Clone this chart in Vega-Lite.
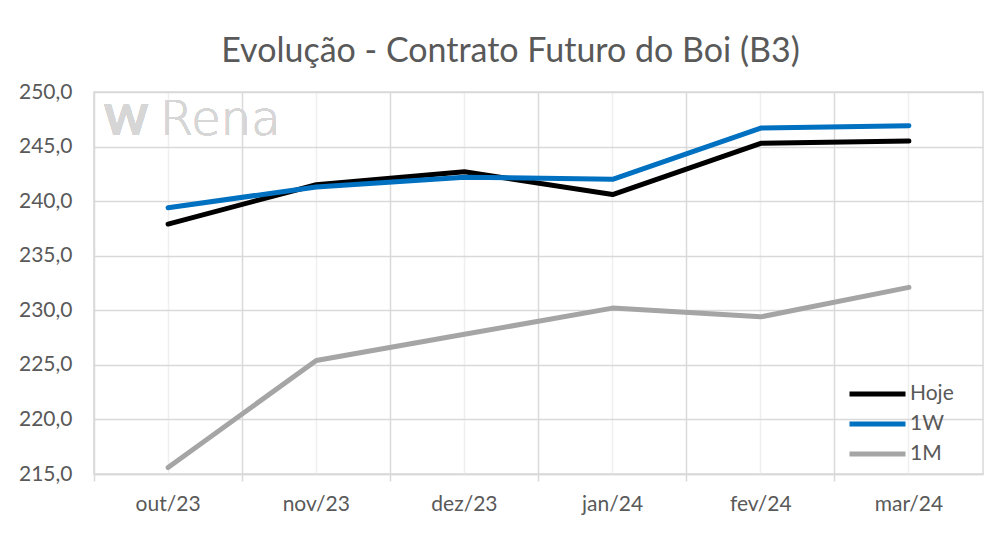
{
  "$schema": "https://vega.github.io/schema/vega-lite/v6.json",
  "autosize": "none",
  "width": 889,
  "height": 382,
  "padding": {"left": 94, "top": 92, "right": 18, "bottom": 59},
  "background": "white",
  "config": {
    "locale": {"number": {"decimal": ",", "thousands": ".", "grouping": [3], "currency": ["R$", ""]}},
    "font": "Lato",
    "view": {"stroke": "#d9d9d9", "strokeWidth": 1.5}
  },
  "title": {
    "text": "Evolução - Contrato Futuro do Boi (B3)",
    "fontSize": 34,
    "font": "Lato",
    "fontWeight": "normal",
    "color": "#595959",
    "anchor": "middle",
    "dx": -28,
    "offset": 12
  },
  "data": {
    "values": [
      {"mes": "out/23", "serie": "Hoje", "valor": 237.9},
      {"mes": "nov/23", "serie": "Hoje", "valor": 241.5},
      {"mes": "dez/23", "serie": "Hoje", "valor": 242.7},
      {"mes": "jan/24", "serie": "Hoje", "valor": 240.6},
      {"mes": "fev/24", "serie": "Hoje", "valor": 245.3},
      {"mes": "mar/24", "serie": "Hoje", "valor": 245.5},
      {"mes": "out/23", "serie": "1W", "valor": 239.4},
      {"mes": "nov/23", "serie": "1W", "valor": 241.3},
      {"mes": "dez/23", "serie": "1W", "valor": 242.2},
      {"mes": "jan/24", "serie": "1W", "valor": 242.0},
      {"mes": "fev/24", "serie": "1W", "valor": 246.7},
      {"mes": "mar/24", "serie": "1W", "valor": 246.9},
      {"mes": "out/23", "serie": "1M", "valor": 215.6},
      {"mes": "nov/23", "serie": "1M", "valor": 225.4},
      {"mes": "dez/23", "serie": "1M", "valor": 227.8},
      {"mes": "jan/24", "serie": "1M", "valor": 230.2},
      {"mes": "fev/24", "serie": "1M", "valor": 229.4},
      {"mes": "mar/24", "serie": "1M", "valor": 232.1}
    ]
  },
  "resolve": {"axis": {"x": "independent"}},
  "layer": [
    {
      "mark": {"type": "rule", "opacity": 0},
      "encoding": {
        "x": {
          "field": "mes", "type": "nominal", "sort": null,
          "scale": {"type": "band", "paddingInner": 0, "paddingOuter": 0},
          "axis": {
            "orient": "bottom", "bandPosition": 0, "labels": false, "title": null,
            "grid": true, "gridColor": "#d9d9d9", "gridWidth": 1.5,
            "ticks": true, "tickColor": "#d9d9d9", "tickSize": 7, "tickWidth": 1.5,
            "domain": true, "domainColor": "#d9d9d9", "domainWidth": 1.5
          }
        }
      }
    },
    {
      "mark": {"type": "line", "strokeWidth": 5, "strokeCap": "round", "strokeJoin": "round"},
      "encoding": {
        "x": {
          "field": "mes", "type": "nominal", "sort": null,
          "axis": {
            "orient": "bottom", "title": null, "labelAngle": 0, "labelFontSize": 21,
            "labelColor": "#595959", "labelPadding": 19, "ticks": false, "domain": false,
            "grid": true, "gridColor": "#efefef", "gridWidth": 1.5
          }
        },
        "y": {
          "field": "valor", "type": "quantitative",
          "scale": {"domain": [215, 250], "nice": false, "zero": false},
          "axis": {
            "title": null, "values": [215, 220, 225, 230, 235, 240, 245, 250], "format": ".1f",
            "labelFontSize": 21, "labelColor": "#595959", "labelPadding": 22,
            "ticks": false, "domain": false, "gridColor": "#d9d9d9", "gridWidth": 1.5
          }
        },
        "color": {
          "field": "serie", "type": "nominal",
          "scale": {"domain": ["Hoje", "1W", "1M"], "range": ["#000000", "#0070C0", "#A5A5A5"]},
          "legend": {
            "title": null, "orient": "none", "legendX": 753, "legendY": 287,
            "symbolType": "stroke", "symbolSize": 3136, "symbolStrokeWidth": 5,
            "clipHeight": 30, "rowPadding": 0, "padding": 0,
            "labelFontSize": 21, "labelColor": "#595959", "labelOffset": 2
          }
        },
        "order": {"field": "serie"}
      }
    },
    {
      "mark": {"type": "text", "text": "Rena", "font": "DejaVu Sans", "fontSize": 48, "fontWeight": 200, "color": "#d6d6d6", "align": "left", "baseline": "alphabetic", "dx": -8},
      "encoding": {
        "x": {"datum": "out/23", "type": "nominal", "axis": null},
        "y": {"datum": 246.06, "type": "quantitative"}
      }
    },
    {
      "mark": {"type": "text", "text": "W", "fontSize": 42, "fontWeight": "bold", "color": "#d6d6d6", "align": "left", "baseline": "alphabetic", "dx": -64},
      "encoding": {
        "x": {"datum": "out/23", "type": "nominal", "axis": null},
        "y": {"datum": 246.06, "type": "quantitative"}
      }
    }
  ]
}
